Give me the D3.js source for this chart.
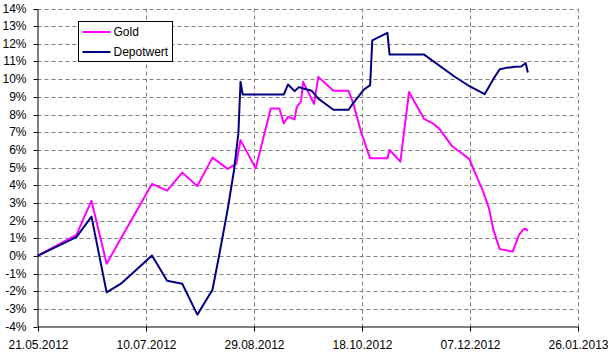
<!DOCTYPE html>
<html>
<head>
<meta charset="utf-8">
<script src="https://cdn.jsdelivr.net/npm/d3@7"></script>
<style>
  html, body { margin: 0; padding: 0; background: #fff; }
  svg { display: block; font-family: "Liberation Sans", Arial, sans-serif; }
</style>
</head>
<body>
<svg id="chart"></svg>
<script>
const xTickLabels = ['21.05.2012', '10.07.2012', '29.08.2012', '18.10.2012', '07.12.2012', '26.01.2013'];
const yTicks = [-4, -3, -2, -1, 0, 1, 2, 3, 4, 5, 6, 7, 8, 9, 10, 11, 12, 13, 14];
const seriesNames = ['Gold', 'Depotwert'];

const goldDates = ['2012-05-21', '2012-06-08', '2012-06-15', '2012-06-22', '2012-06-28', '2012-07-13', '2012-07-20',
  '2012-07-27', '2012-08-03', '2012-08-10', '2012-08-17', '2012-08-21', '2012-08-23', '2012-08-30', '2012-09-06',
  '2012-09-10', '2012-09-12', '2012-09-14', '2012-09-17', '2012-09-18', '2012-09-20', '2012-09-21', '2012-09-26',
  '2012-09-28', '2012-10-05', '2012-10-12', '2012-10-14', '2012-10-18', '2012-10-22', '2012-10-30', '2012-10-31',
  '2012-11-05', '2012-11-09', '2012-11-16', '2012-11-20', '2012-11-23', '2012-11-29', '2012-12-04', '2012-12-07',
  '2012-12-09', '2012-12-13', '2012-12-16', '2012-12-18', '2012-12-21', '2012-12-27', '2012-12-30', '2013-01-01',
  '2013-01-02', '2013-01-03'];
const goldValues = [0, 1.19, 3.12, -0.45, 0.85, 4.07, 3.69,
  4.71, 3.95, 5.56, 4.92, 5.2, 6.55, 4.95, 8.34,
  8.34, 7.5, 7.87, 7.72, 8.4, 8.75, 9.85, 8.6,
  10.13, 9.34, 9.34, 8.7, 6.93, 5.52, 5.52, 5.99,
  5.33, 9.28, 7.75, 7.5, 7.2, 6.2, 5.75, 5.46,
  4.86, 3.73, 2.7, 1.5, 0.38, 0.24, 1.2, 1.5,
  1.53, 1.41];

const depotDates = ['2012-05-21', '2012-06-08', '2012-06-15', '2012-06-22', '2012-06-29', '2012-07-04', '2012-07-13',
  '2012-07-20', '2012-07-27', '2012-08-03', '2012-08-10', '2012-08-13', '2012-08-17', '2012-08-20', '2012-08-22',
  '2012-08-23', '2012-08-24', '2012-09-12', '2012-09-14', '2012-09-17', '2012-09-19', '2012-09-21', '2012-09-25',
  '2012-09-28', '2012-10-05', '2012-10-12', '2012-10-14', '2012-10-19', '2012-10-22', '2012-10-23', '2012-10-30',
  '2012-10-31', '2012-11-16', '2012-11-30', '2012-12-07', '2012-12-14', '2012-12-18', '2012-12-21', '2012-12-24',
  '2012-12-28', '2012-12-31', '2013-01-02', '2013-01-03'];
const depotValues = [0, 1.06, 2.22, -2.07, -1.54, -0.98, 0.02,
  -1.41, -1.58, -3.33, -1.92, -0.04, 2.6, 4.86, 6.93,
  9.85, 9.13, 9.13, 9.7, 9.32, 9.55, 9.47, 9.34,
  8.9, 8.27, 8.27, 8.62, 9.4, 9.66, 12.2, 12.62,
  11.39, 11.39, 10.15, 9.6, 9.15, 10.0, 10.56, 10.64,
  10.7, 10.72, 10.92, 10.38];

const parseDay = d3.timeParse('%Y-%m-%d');
const parseTick = d3.timeParse('%d.%m.%Y');
const fmtTick = d3.timeFormat('%d.%m.%Y');

const W = 608, H = 352;
const svg = d3.select('#chart').attr('width', W).attr('height', H);

const xTicks = xTickLabels.map(parseTick);
const x = d3.scaleTime()
  .domain([xTicks[0], xTicks[xTicks.length - 1]])
  .range([37.5, 577.5]);
const y = d3.scaleLinear()
  .domain([-4, 14])
  .range([326.5, 8.5]);

// gridlines
const grid = svg.append('g').attr('stroke', '#808080').attr('stroke-dasharray', '4,3').attr('stroke-width', 1);
grid.selectAll('line.h')
  .data(yTicks.filter(v => v > -4))
  .enter().append('line')
  .attr('x1', 37.5).attr('x2', 577.5)
  .attr('y1', d => Math.round(y(d)) + 0.5).attr('y2', d => Math.round(y(d)) + 0.5);
grid.selectAll('line.v')
  .data(xTicks.slice(1))
  .enter().append('line')
  .attr('x1', d => Math.round(x(d)) + 0.5).attr('x2', d => Math.round(x(d)) + 0.5)
  .attr('y1', 8.5).attr('y2', 326.5);

// axes
const yAxis = svg.append('g')
  .attr('transform', 'translate(37.5,0)')
  .call(d3.axisLeft(y).tickValues(yTicks).tickFormat(d => d + '%').tickSize(4).tickSizeOuter(0).tickPadding(7));
const xAxis = svg.append('g')
  .attr('transform', 'translate(0,326.5)')
  .call(d3.axisBottom(x).tickValues(xTicks).tickFormat(fmtTick).tickSize(5).tickSizeOuter(0).tickPadding(9));
[yAxis, xAxis].forEach(a => {
  a.selectAll('path, line').attr('stroke', '#000');
  a.selectAll('text').attr('fill', '#000').attr('font-size', 12)
    .attr('font-family', '"Liberation Sans", Arial, sans-serif');
});
yAxis.selectAll('.tick').attr('transform', d => `translate(0,${Math.round(y(d)) + 0.5})`);
xAxis.selectAll('.tick').attr('transform', d => `translate(${Math.round(x(d)) + 0.5},0)`);

// lines
const line = d3.line()
  .x(d => x(d.date))
  .y(d => y(d.value));

const gold = goldDates.map((d, i) => ({ date: parseDay(d), value: goldValues[i] }));
const depot = depotDates.map((d, i) => ({ date: parseDay(d), value: depotValues[i] }));
const colors = ['#FF00FF', '#000080'];

svg.append('path')
  .datum(gold)
  .attr('fill', 'none')
  .attr('stroke', colors[0])
  .attr('stroke-width', 2)
  .attr('stroke-linejoin', 'round')
  .attr('d', line);

svg.append('path')
  .datum(depot)
  .attr('fill', 'none')
  .attr('stroke', colors[1])
  .attr('stroke-width', 2)
  .attr('stroke-linejoin', 'round')
  .attr('d', line);

// legend
const legend = svg.append('g').attr('transform', 'translate(78.5,21.5)');
legend.append('rect')
  .attr('width', 94).attr('height', 40)
  .attr('fill', '#fff').attr('stroke', '#000').attr('stroke-width', 1);
const items = legend.selectAll('g.item')
  .data(seriesNames)
  .enter().append('g')
  .attr('transform', (d, i) => `translate(0,${10.5 + i * 20})`);
items.append('line')
  .attr('x1', 4).attr('x2', 32)
  .attr('stroke', (d, i) => colors[i])
  .attr('stroke-width', 2);
items.append('text')
  .attr('x', 35)
  .attr('dy', '.35em')
  .attr('font-size', 12)
  .attr('fill', '#000')
  .text(d => d);
</script>
</body>
</html>
